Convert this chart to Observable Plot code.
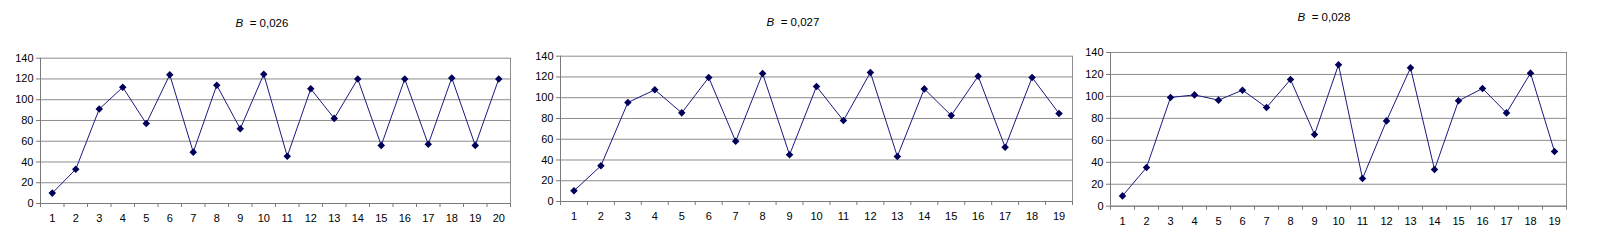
<!DOCTYPE html>
<html>
<head>
<meta charset="utf-8">
<script src="https://cdn.jsdelivr.net/npm/d3@7"></script>
<script src="https://cdn.jsdelivr.net/npm/@observablehq/plot@0.6"></script>
<style>
  html, body { margin: 0; padding: 0; background: #fff; }
  #root { position: relative; width: 1600px; height: 242px; overflow: hidden; font-family: "Liberation Sans", Arial, sans-serif; }
  .panel { position: absolute; top: 0; }
  .title { position: absolute; font-size: 11.5px; color: #000; transform: translate(-50%, -50%); white-space: nowrap; }
  svg { overflow: visible; }
</style>
</head>
<body>
<div id="root"></div>
<script>
const titles = ["0,026", "0,027", "0,028"];
const yTicks = [0, 20, 40, 60, 80, 100, 120, 140];

const categories1 = [1,2,3,4,5,6,7,8,9,10,11,12,13,14,15,16,17,18,19,20];
const values1 = [10, 33, 91, 112, 77, 124, 49.5, 114, 72, 124.5, 45.5, 110.5, 82, 120, 56, 120, 57, 121, 56, 120];

const categories2 = [1,2,3,4,5,6,7,8,9,10,11,12,13,14,15,16,17,18,19];
const values2 = [10.3, 34.4, 95.4, 107.6, 85.4, 119.5, 58, 123.3, 45, 110.8, 78, 124.3, 43.4, 108.5, 82.9, 120.7, 52.3, 119.5, 84.8];

const categories3 = [1,2,3,4,5,6,7,8,9,10,11,12,13,14,15,16,17,18,19];
const values3 = [9.4, 35.2, 99, 101.4, 96.6, 105.7, 89.9, 115.4, 65.3, 128.8, 25.2, 77.7, 126, 33.4, 96, 107.2, 85, 121.2, 49.8];

const layouts = [
  {left: 0, width: 530, ml: 40, mr: 20, mt: 57.7, mb: 39, tx: 262, ty: 23},
  {left: 530, width: 545, ml: 30, mr: 3, mt: 55.7, mb: 41, tx: 793, ty: 22},
  {left: 1075, width: 525, ml: 35, mr: 34, mt: 52, mb: 36.3, tx: 1324, ty: 17}
];

function panel(cats, vals, L) {
  const data = cats.map((c, i) => ({x: c, y: vals[i]}));
  const n = cats.length;
  const bounds = d3.range(0, n + 1).map(i => i + 0.5);
  return Plot.plot({
    width: L.width,
    height: 242,
    marginLeft: L.ml,
    marginRight: L.mr,
    marginTop: L.mt,
    marginBottom: L.mb,
    style: {fontFamily: "'Liberation Sans', Arial, sans-serif", fontSize: "11px", color: "#000", background: "transparent", overflow: "visible"},
    x: {type: "linear", domain: [0.5, n + 0.5]},
    y: {domain: [0, 140]},
    marks: [
      Plot.ruleY(yTicks, {stroke: "#8c8c8c", strokeWidth: 1}),
      Plot.ruleX([n + 0.5], {stroke: "#8c8c8c", strokeWidth: 1}),
      Plot.ruleX([0.5], {stroke: "#7a7a7a", strokeWidth: 1}),
      Plot.ruleY([0], {stroke: "#7a7a7a", strokeWidth: 1}),
      Plot.axisY({ticks: yTicks, tickSize: 4, tickPadding: 3, stroke: "#7a7a7a", fill: "#000", label: null, fontSize: 11}),
      Plot.axisX({ticks: bounds, tickSize: 4, tickFormat: () => "", stroke: "#7a7a7a", label: null}),
      Plot.axisX({ticks: cats, tickSize: 0, tickPadding: 11, fill: "#000", label: null, fontSize: 11}),
      Plot.line(data, {x: "x", y: "y", stroke: "#1a1a80", strokeWidth: 1}),
      Plot.dot(data, {x: "x", y: "y", symbol: "diamond2", r: 3.4, fill: "#00005a", stroke: "none"})
    ]
  });
}

const root = document.getElementById("root");
const sets = [[categories1, values1], [categories2, values2], [categories3, values3]];
sets.forEach(([c, v], i) => {
  const L = layouts[i];
  const div = document.createElement("div");
  div.className = "panel";
  div.style.left = L.left + "px";
  div.appendChild(panel(c, v, L));
  root.appendChild(div);
  const t = document.createElement("div");
  t.className = "title";
  t.style.left = L.tx + "px";
  t.style.top = L.ty + "px";
  t.innerHTML = "<i>B</i>&nbsp; = " + titles[i];
  root.appendChild(t);
});
</script>
</body>
</html>
